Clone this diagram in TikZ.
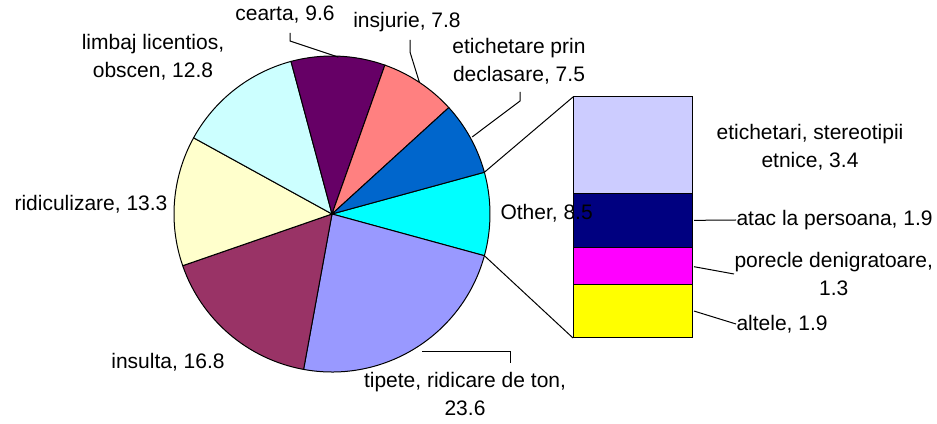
\documentclass[tikz,border=0pt]{standalone}
\usepackage{fontspec}
\setmainfont{Liberation Sans}
\begin{document}
\begin{tikzpicture}[x=1pt,y=1pt,line width=1pt,
  lbl/.style={font=\fontsize{21}{28}\selectfont, inner sep=0pt, align=center},
  seg/.style={draw=black, minimum width=119pt, inner sep=0pt, outer sep=0pt, anchor=north},
  leader/.style={draw=black, line width=1pt},
  slice/.style={draw=black, line width=1pt}]
\definecolor{cOther}{HTML}{00FFFF}
\definecolor{cTip}{HTML}{9999FF}
\definecolor{cIns}{HTML}{993366}
\definecolor{cRid}{HTML}{FFFFCC}
\definecolor{cLim}{HTML}{CCFFFF}
\definecolor{cCea}{HTML}{660066}
\definecolor{cInj}{HTML}{FF8080}
\definecolor{cEti}{HTML}{0066CC}
\definecolor{cB1}{HTML}{CCCCFF}
\definecolor{cB2}{HTML}{000080}
\definecolor{cB3}{HTML}{FF00FF}
\definecolor{cB4}{HTML}{FFFF00}
\useasboundingbox (0,0) rectangle (937,423);
\fill[white] (0,0) rectangle (937,423);
\coordinate (O) at (332,209);
% pie
\foreach \a/\b/\c in {15.32/-15.31/cOther, -15.31/-100.36/cTip, -100.36/-160.90/cIns, -160.90/-208.83/cRid, 151.17/105.04/cLim, 105.04/70.45/cCea, 70.45/42.34/cInj, 42.34/15.32/cEti}
  \filldraw[slice, fill=\c] (O) -- ++(\a:158) arc[start angle=\a, end angle=\b, radius=158] -- cycle;
% bar
\node[seg, fill=cB1, minimum height=96.4pt] (b1) at (632.5,326) {};
\node[seg, fill=cB2, minimum height=53.9pt] (b2) at (b1.south) {};
\node[seg, fill=cB3, minimum height=36.8pt] (b3) at (b2.south) {};
\node[seg, fill=cB4, minimum height=53.9pt] (b4) at (b3.south) {};
% pie-to-bar connectors
\path (O) ++(15.32:158) coordinate (pTop);
\path (O) ++(-15.31:158) coordinate (pBot);
\draw[leader] (pTop) -- (b1.north west);
\draw[leader] (pBot) -- (b4.south west);
% leader anchor points
\path (O) ++(87.7:157) coordinate (pCea);
\path (O) ++(56.4:158) coordinate (pInj);
\path (O) ++(28.8:160) coordinate (pEti);
\coordinate (pTip) at (422,71);
\coordinate (kCea1) at (290,382); \coordinate (kCea2) at (290,390);
\coordinate (kInj1) at (410,371); \coordinate (kInj2) at (410,383);
\coordinate (kEti1) at (520,322); \coordinate (kEti2) at (520,331);
\coordinate (kTip1) at (510,71); \coordinate (kTip2) at (510,60);
% labels
\node[lbl] (lCea) at (285,408) {cearta, 9.6};
\node[lbl] (lInj) at (407,401) {insjurie, 7.8};
\node[lbl] (lEti) at (519,362) {etichetare prin\\declasare, 7.5};
\node[lbl] (lLim) at (153,366) {limbaj licentios,\\obscen, 12.8};
\node[lbl] (lRid) at (91,219) {ridiculizare, 13.3};
\node[lbl] (lIns) at (168,61) {insulta, 16.8};
\node[lbl] (lTip) at (465,29) {tipete, ridicare de ton,\\23.6};
\node[lbl, anchor=west] (lOth) at (500,210) {Other, 8.5};
\node[lbl] (lB1) at (810,276) {etichetari, stereotipii\\etnice, 3.4};
\node[lbl, anchor=west] (lB2) at (736,203) {atac la persoana, 1.9};
\node[lbl, anchor=west] (lB3) at (734,149) {porecle denigratoare,\\1.3};
\node[lbl, anchor=west] (lB4) at (736,99) {altele, 1.9};
% leaders
\draw[leader] (pCea) -- (kCea1) -- (kCea2);
\draw[leader] (pInj) -- (kInj1) -- (kInj2);
\draw[leader] (pEti) -- (kEti1) -- (kEti2);
\draw[leader] (pTip) -- (kTip1) -- (kTip2);
\path (b2.east) ++(2,0) coordinate (sB2);
\draw[leader] (sB2) -- (lB2.west);
\path (b3.east) ++(2,-1) coordinate (sB3);
\draw[leader] (sB3) -- (lB3.west);
\path (b4.east) ++(2,0) coordinate (sB4);
\draw[leader] (sB4) -- (lB4.west);
\end{tikzpicture}
\end{document}
